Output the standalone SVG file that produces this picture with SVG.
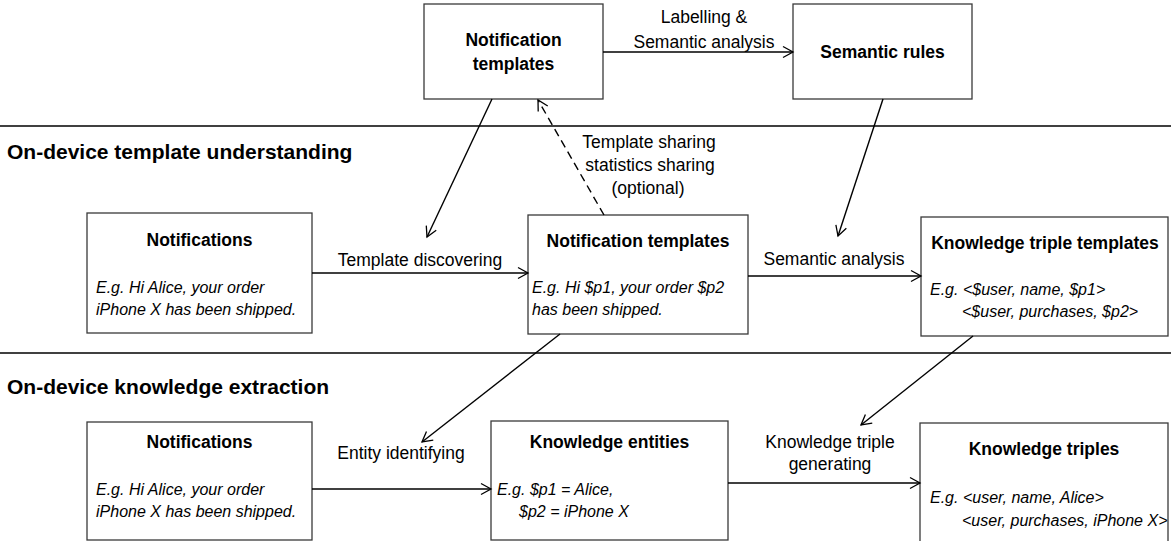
<svg xmlns="http://www.w3.org/2000/svg" width="1171" height="541" viewBox="0 0 1171 541">
<style>
.box{fill:#fff;stroke:#3a3a3a;stroke-width:1.3}
.t{font-family:"Liberation Sans",Arial,sans-serif;fill:#000}
.b{font-weight:bold;font-size:17.5px;text-anchor:middle}
.i{font-style:italic;font-size:16px}
.l{font-size:17.5px;text-anchor:middle}
.h{font-weight:bold;font-size:21px}
.c{stroke:#000;stroke-width:1.4;fill:none}
.d{stroke-dasharray:8,5}
.sep{stroke:#000;stroke-width:1.5}
</style>
<defs>
<marker id="ah" markerUnits="userSpaceOnUse" markerWidth="14" markerHeight="14" refX="12" refY="7" orient="auto">
<path d="M2,1.5 L12,7 L2,12.5" fill="none" stroke="#000" stroke-width="1.3"/>
</marker>
</defs>
<rect width="1171" height="541" fill="#fff"/>

<g id="separators">
<line class="sep" x1="0" y1="126" x2="1171" y2="126"/>
<line class="sep" x1="0" y1="353" x2="1171" y2="353"/>
<text class="t h" x="7" y="159">On-device template understanding</text>
<text class="t h" x="7" y="394">On-device knowledge extraction</text>
</g>

<g id="cloud-templates">
<rect class="box" x="424" y="4" width="179" height="95"/>
<text class="t b" x="513.5" y="46">Notification</text>
<text class="t b" x="513.5" y="70">templates</text>
</g>

<g id="semantic-rules">
<rect class="box" x="793" y="4" width="179" height="95"/>
<text class="t b" x="882.5" y="58">Semantic rules</text>
</g>

<g id="notifications-1">
<rect class="box" x="87" y="213" width="225" height="120"/>
<text class="t b" x="199.5" y="246">Notifications</text>
<text class="t i" x="96" y="293">E.g. Hi Alice, your order</text>
<text class="t i" x="96" y="315">iPhone X has been shipped.</text>
</g>

<g id="notification-templates">
<rect class="box" x="528" y="215" width="220" height="119"/>
<text class="t b" x="638" y="247">Notification templates</text>
<text class="t i" x="532" y="293">E.g. Hi $p1, your order $p2</text>
<text class="t i" x="532" y="315">has been shipped.</text>
</g>

<g id="knowledge-triple-templates">
<rect class="box" x="921" y="217" width="247" height="119"/>
<text class="t b" x="1045" y="249">Knowledge triple templates</text>
<text class="t i" x="930" y="295">E.g. &lt;$user, name,  $p1&gt;</text>
<text class="t i" x="962" y="317">&lt;$user, purchases, $p2&gt;</text>
</g>

<g id="notifications-2">
<rect class="box" x="87" y="422" width="225" height="118"/>
<text class="t b" x="199.5" y="448">Notifications</text>
<text class="t i" x="96" y="495">E.g. Hi Alice, your order</text>
<text class="t i" x="96" y="517">iPhone X has been shipped.</text>
</g>

<g id="knowledge-entities">
<rect class="box" x="491" y="421" width="237" height="119"/>
<text class="t b" x="609.5" y="448">Knowledge entities</text>
<text class="t i" x="497" y="495">E.g. $p1 = Alice,</text>
<text class="t i" x="519" y="517">$p2 = iPhone X</text>
</g>

<g id="knowledge-triples">
<rect class="box" x="920" y="423" width="248" height="122"/>
<text class="t b" x="1044" y="455">Knowledge triples</text>
<text class="t i" x="930" y="503">E.g. &lt;user, name, Alice&gt;</text>
<text class="t i" x="962" y="526">&lt;user, purchases, iPhone X&gt;</text>
</g>

<g id="connectors">
<line class="c" x1="603" y1="52" x2="793" y2="52" marker-end="url(#ah)"/>
<text class="t l" x="704" y="23">Labelling &amp;</text>
<text class="t l" x="704" y="48">Semantic analysis</text>

<line class="c" x1="492" y1="99" x2="427" y2="237" marker-end="url(#ah)"/>

<line class="c d" x1="604" y1="215" x2="538" y2="100" marker-end="url(#ah)"/>
<text class="t l" x="649" y="148">Template sharing</text>
<text class="t l" x="650" y="171">statistics sharing</text>
<text class="t l" x="648" y="194">(optional)</text>

<line class="c" x1="883" y1="99" x2="838" y2="236" marker-end="url(#ah)"/>

<line class="c" x1="312" y1="273" x2="528" y2="273" marker-end="url(#ah)"/>
<text class="t l" x="420" y="266">Template discovering</text>

<line class="c" x1="748" y1="276" x2="921" y2="276" marker-end="url(#ah)"/>
<text class="t l" x="834" y="265">Semantic analysis</text>

<line class="c" x1="560" y1="334" x2="422" y2="442" marker-end="url(#ah)"/>

<line class="c" x1="973" y1="336" x2="861" y2="425" marker-end="url(#ah)"/>

<line class="c" x1="312" y1="489" x2="491" y2="489" marker-end="url(#ah)"/>
<text class="t l" x="401" y="459">Entity identifying</text>

<line class="c" x1="728" y1="483" x2="920" y2="483" marker-end="url(#ah)"/>
<text class="t l" x="830" y="448">Knowledge triple</text>
<text class="t l" x="830" y="470">generating</text>
</g>
</svg>
